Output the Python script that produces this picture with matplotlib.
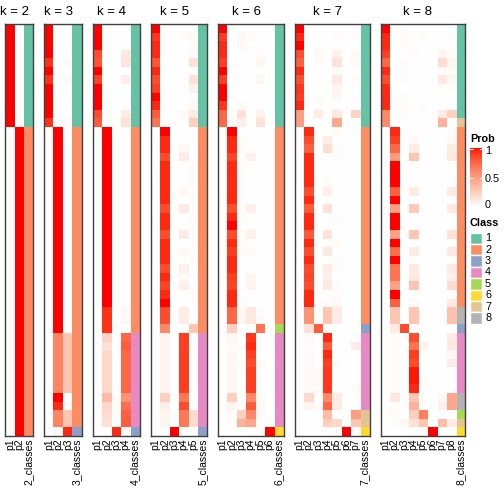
import numpy as np
import matplotlib
matplotlib.use("Agg")
import matplotlib.pyplot as plt
from matplotlib.patches import Rectangle

plt.rcParams['font.family'] = ['Liberation Sans', 'DejaVu Sans']

# class colours (Set2)
class_cols = ["#66C2A5", "#FC8D62", "#8DA0CB", "#E78AC3",
              "#A6D854", "#FFD92F", "#E5C494", "#B3B3B3"]

# consensus class per sample, rows in plotted order
cls2 = [1,1,1,1,1,1,1,1,1,1,1,1,
        2,2,2,2,2,2,2,2,2,2,2,2,2,2,2,2,2,2,2,2,2,2,2,2,
        2,2,2,2,2,2,2,2,2,2,2,2]
cls3 = [1,1,1,1,1,1,1,1,1,1,1,1,
        2,2,2,2,2,2,2,2,2,2,2,2,2,2,2,2,2,2,2,2,2,2,2,2,
        2,2,2,2,2,2,2,2,2,2,2,3]
cls4 = [1,1,1,1,1,1,1,1,1,1,1,1,
        2,2,2,2,2,2,2,2,2,2,2,2,2,2,2,2,2,2,2,2,2,2,2,2,
        4,4,4,4,4,4,4,4,4,4,4,3]
cls5 = [1,1,1,1,1,1,1,1,1,1,1,1,
        2,2,2,2,2,2,2,2,2,2,2,2,2,2,2,2,2,2,2,2,2,2,2,2,
        4,4,4,4,4,4,4,4,4,4,4,3]
cls6 = [1,1,1,1,1,1,1,1,1,1,1,1,
        2,2,2,2,2,2,2,2,2,2,2,2,2,2,2,2,2,2,2,2,2,2,2,5,
        4,4,4,4,4,4,4,4,4,4,4,6]
cls7 = [1,1,1,1,1,1,1,1,1,1,1,1,
        2,2,2,2,2,2,2,2,2,2,2,2,2,2,2,2,2,2,2,2,2,2,2,3,
        4,4,4,4,4,4,4,4,4,7,7,6]
cls8 = [1,1,1,1,1,1,1,1,1,1,1,7,
        2,2,2,2,2,2,2,2,2,2,2,2,2,2,2,2,2,2,2,2,2,8,8,3,
        4,4,4,4,4,4,4,8,8,5,7,6]

# membership probabilities p1..pk per sample
mem2 = [[1,0],[1,0],[1,0],[1,0],[1,0],[1,0],[1,0],[1,0],[1,0],[1,0],[1,0],[1,0],
        [0,1],[0,1],[0,1],[0,1],[0,1],[0,1],[0,1],[0,1],[0,1],[0,1],[0,1],[0,1],
        [0,1],[0,1],[0,1],[0,1],[0,1],[0,1],[0,1],[0,1],[0,1],[0,1],[0,1],[0,1],
        [0,1],[0,1],[0,1],[0,1],[0,1],[0,1],[0,1],[0,1],[0,1],[0,1],[0,1],[0,1]]

mem3 = [[1,0,0],[1,0,0],[1,0,0],[1,0,0],[.93,0,.03],[1,0,0],
        [.93,0,.03],[1,0,0],[1,0,0],[1,0,0],[1,0,0],[.93,0,.03],
        [0,1,0],[0,1,0],[0,1,0],[0,1,0],[0,1,0],[0,1,0],
        [0,1,0],[0,1,0],[0,1,0],[0,1,0],[0,1,0],[0,1,0],
        [0,1,0],[0,1,0],[0,1,0],[0,1,0],[0,1,0],[0,1,0],
        [0,1,0],[0,1,0],[0,1,0],[0,1,0],[0,1,0],[0,1,0],
        [0,.62,.3],[0,.62,.3],[0,.62,.3],[0,.62,.3],[0,.62,.3],[0,.62,.3],
        [0,.62,.3],[0,1,0],[0,.95,.02],[0,.62,.3],[0,.62,.3],[0,.03,.95]]

mem4 = [[1,0,0,0],[1,0,0,0],[1,0,0,0],[.85,0,0,.12],[.82,0,0,.14],[1,0,0,0],
        [.88,0,0,.08],[1,0,0,0],[1,0,0,0],[1,0,0,0],[.85,0,0,.1],[.8,0,0,.15],
        [0,1,0,0],[0,1,0,0],[0,1,0,0],[0,1,0,0],[0,1,0,0],[0,1,0,0],
        [0,1,0,0],[0,1,0,0],[0,1,0,0],[0,1,0,0],[0,1,0,0],[0,1,0,0],
        [0,1,0,0],[0,1,0,0],[0,1,0,0],[0,1,0,0],[0,1,0,0],[0,1,0,0],
        [0,1,0,0],[0,1,0,0],[0,1,0,0],[0,.93,0,.03],[0,.93,0,.03],[0,.93,.02,0],
        [0,.22,0,.75],[0,.15,0,.8],[0,.2,0,.75],[0,.2,0,.75],[0,.2,0,.75],[0,.2,0,.75],
        [0,.2,0,.75],[0,.35,.02,.55],[0,.2,.02,.72],[0,.18,.01,.78],[0,.15,0,.8],[0,0,.95,.02]]

mem5 = [[1,0,0,0,0],[.92,0,0,.02,.03],[.95,0,0,0,.02],[.95,0,0,0,.02],
        [.82,0,0,0,.15],[.95,0,0,0,.01],[.85,0,0,0,.15],[.9,0,0,0,.07],
        [1,0,0,0,0],[.95,0,0,0,.03],[.8,0,0,.03,.1],[.7,0,0,0,.25],
        [0,1,0,0,0],[0,.95,0,0,0],[0,.95,0,.03,0],[0,.85,0,.1,0],
        [0,.95,0,0,.02],[0,.95,0,0,.02],[0,.95,0,0,.02],[0,.95,0,.03,0],
        [0,.95,0,0,.02],[0,.85,0,.1,0],[0,.95,0,0,.02],[0,.95,0,0,.02],
        [0,.85,0,.1,0],[0,.95,0,0,.02],[0,.95,0,.03,0],[0,.95,0,0,.02],
        [0,.85,0,.08,0],[0,.95,0,.03,0],[0,.88,0,.08,0],[0,.95,0,0,.02],
        [0,1,0,0,0],[0,.85,0,.1,0],[0,.85,0,.1,0],[0,.6,0,0,.3],
        [0,.05,0,.9,0],[0,.05,0,.9,.02],[0,.05,0,.9,0],[0,.05,0,.9,0],
        [0,.05,0,.9,0],[0,.05,0,.9,0],[0,.05,0,.9,0],[0,.25,0,.68,0],
        [0,.08,0,.85,0],[0,.05,0,.68,.18],[0,.05,0,.68,.18],[0,0,1,0,0]]

mem6 = [[1,0,0,0,0,0],[.9,0,.04,.02,0,0],[.95,0,.03,0,0,0],[.95,0,0,0,.02,0],
        [.9,0,.02,0,.05,0],[1,0,0,0,0,0],[.9,0,.02,0,.04,0],[1,0,0,0,0,0],
        [1,0,0,0,0,0],[.92,0,.03,0,0,0],[.75,0,.15,0,.07,0],[.75,0,.08,0,.15,0],
        [0,1,0,0,0,0],[0,.95,.02,0,0,0],[0,.95,.02,0,0,0],[0,.88,.02,.07,0,0],
        [0,.95,.02,0,0,0],[0,.95,.02,0,0,0],[0,.95,.02,0,0,0],[0,.95,.02,0,0,0],
        [0,.95,.02,0,0,0],[0,.85,.02,.08,0,0],[0,.95,.02,0,0,0],[0,1,0,0,0,0],
        [0,.85,.02,.07,0,0],[0,.95,.02,0,0,0],[0,.9,.02,.03,0,0],[0,.95,0,0,0,0],
        [0,.95,0,0,0,0],[0,.9,0,.05,0,0],[0,.88,0,.06,0,0],[0,.95,0,0,0,0],
        [0,.95,.02,0,0,0],[0,.75,.04,.12,.02,0],[0,.75,.04,.12,.03,0],[0,.25,0,0,.7,0],
        [0,.04,0,.92,0,0],[0,.02,.02,.95,0,0],[0,.04,0,.9,0,0],[0,.04,.02,.85,.03,0],
        [0,.04,0,.9,0,0],[0,.04,.01,.9,0,0],[0,.04,0,.9,0,0],[0,.25,0,.6,.03,0],
        [0,.05,0,.8,.03,0],[0,.02,.25,.6,.03,0],[0,.02,.4,.45,0,0],[0,0,0,0,0,1]]

mem7 = [[1,0,0,0,0,0,0],[.95,0,0,0,.02,0,.02],[1,0,0,0,0,0,0],[.85,0,.03,0,.07,0,.03],
        [.78,0,.02,0,.15,0,.03],[.95,0,0,0,.02,0,0],[.85,0,0,0,.12,0,.02],[.92,0,0,0,.05,0,0],
        [.9,0,.02,0,.04,0,0],[.95,0,.02,0,0,0,0],[.5,0,.1,0,.12,0,.22],[.5,0,0,0,.45,0,0],
        [0,.95,0,0,.02,0,0],[0,.85,0,.1,0,0,0],[0,.78,0,.18,.02,0,0],[0,.95,0,0,.02,0,0],
        [0,.95,0,0,0,0,0],[0,.95,0,0,0,0,0],[0,.95,0,.02,0,0,0],[0,.85,0,.08,0,0,0],
        [0,.95,0,0,0,0,0],[0,.8,0,.15,0,0,0],[0,.95,0,0,.02,0,0],[0,.95,0,0,.02,0,0],
        [0,.8,0,.15,0,0,0],[0,.95,0,0,.02,0,0],[0,.85,0,.12,0,0,0],[0,.95,0,0,.02,0,0],
        [0,.85,0,.1,.02,0,0],[0,.88,0,.08,0,0,0],[0,.85,0,.12,.02,0,0],[0,.95,0,0,.02,0,0],
        [0,.95,0,.02,.03,0,0],[0,.55,0,.3,.1,0,0],[0,.55,0,.3,.1,0,0],[0,.15,.8,0,0,0,0],
        [0,.03,0,.95,0,0,0],[0,.02,0,.8,0,0,.1],[0,.03,0,.95,0,0,0],[0,.03,0,.9,.02,0,0],
        [0,.03,.03,.92,0,0,0],[0,.03,.03,.92,0,0,0],[0,.03,.03,.92,0,0,.02],[0,.2,0,.6,.1,0,.02],
        [0,.05,.02,.75,.1,0,0],[0,0,0,.35,0,0,.5],[0,0,0,.25,.2,0,.3],[0,0,0,0,0,1,0]]

mem8 = [[1,0,.02,0,0,0,0,0],[.95,0,.02,0,.02,0,0,.02],[.95,0,.02,0,0,0,0,0],[.9,0,0,.02,0,0,.05,.02],
        [.75,0,.02,0,0,0,.18,.05],[.95,0,.02,0,0,0,.02,.02],[.85,0,.02,0,0,0,.12,.04],[.95,0,0,0,0,0,.02,.02],
        [.95,0,.02,0,0,0,0,0],[.95,0,.02,0,.02,0,0,0],[.6,0,.02,0,0,0,.1,.25],[.6,0,0,0,0,0,.4,0],
        [0,.95,0,0,0,0,0,.02],[0,.9,0,.03,0,0,0,.03],[0,.75,0,.1,0,0,0,.1],[0,.5,0,.3,0,0,0,.12],
        [0,1,0,0,0,0,0,0],[0,1,0,0,0,0,0,0],[0,1,0,0,0,0,0,0],[0,.78,0,.1,0,0,0,.1],
        [0,1,0,0,0,0,0,0],[0,.5,0,.28,0,0,0,.12],[0,1,0,0,0,0,0,0],[0,1,0,0,0,0,0,0],
        [0,.48,0,.3,0,0,0,.15],[0,1,0,0,0,0,0,0],[0,.72,0,.1,0,0,0,.12],[0,1,0,0,0,0,0,0],
        [0,.7,0,.12,0,0,0,.12],[0,.7,0,.12,0,0,0,.08],[0,.48,0,.3,0,0,0,.18],[0,1,0,0,0,0,0,0],
        [0,.78,0,.02,0,0,0,.12],[0,.3,0,.3,0,0,0,.32],[0,.3,0,.3,0,0,0,.32],[0,.1,.85,0,0,0,0,0],
        [0,.02,0,.85,0,0,0,.1],[0,.02,0,.7,.07,0,0,.12],[0,.02,0,.9,0,0,0,.04],[0,.02,0,.85,0,0,0,.1],
        [0,.02,0,.98,0,0,0,0],[0,.02,0,.98,.02,0,0,0],[0,.02,0,.95,0,0,0,0],[0,.12,0,.3,0,0,.03,.45],
        [0,.02,0,.4,0,0,.07,.45],[0,.02,0,.25,.65,0,0,0],[0,.02,.04,.15,.3,0,.35,.1],[0,0,0,0,0,1,0,0]]

panels = [(2, mem2, cls2), (3, mem3, cls3), (4, mem4, cls4), (5, mem5, cls5),
          (6, mem6, cls6), (7, mem7, cls7), (8, mem8, cls8)]


# white -> red ramp interpolated in LAB space
WHITE = np.array([0.95047, 1.0, 1.08883])
M = np.array([[0.4124, 0.3576, 0.1805],
              [0.2126, 0.7152, 0.0722],
              [0.0193, 0.1192, 0.9505]])

def rgb2lab(rgb):
    c = np.asarray(rgb, float)
    lin = np.where(c <= 0.04045, c / 12.92, ((c + 0.055) / 1.055) ** 2.4)
    t = (M @ lin) / WHITE
    f = np.where(t > 0.008856, np.cbrt(t), 7.787 * t + 16 / 116)
    return np.array([116 * f[1] - 16, 500 * (f[0] - f[1]), 200 * (f[1] - f[2])])

def lab2rgb(lab):
    L, a, b = lab[..., 0], lab[..., 1], lab[..., 2]
    fy = (L + 16) / 116
    f = np.stack([fy + a / 500, fy, fy - b / 200], axis=-1)
    t = np.where(f > 0.2069, f ** 3, (f - 16 / 116) / 7.787) * WHITE
    lin = t @ np.linalg.inv(M).T
    lin = np.clip(lin, 0, 1)
    c = np.where(lin <= 0.0031308, 12.92 * lin, 1.055 * lin ** (1 / 2.4) - 0.055)
    return np.clip(c, 0, 1)

lab_w = rgb2lab([1, 1, 1])
lab_r = rgb2lab([1, 0, 0])

def prob_rgb(v):
    v = np.asarray(v, float)[..., None]
    return lab2rgb(lab_w + v * (lab_r - lab_w))

class_rgb = np.array([matplotlib.colors.to_rgb(c) for c in class_cols])

W = H = 504
fig = plt.figure(figsize=(W / 100, H / 100), dpi=100)

col_w = 9.37
gap = 11.0
top = 24
hm_h = 412
x0 = 5.3
for k, mem, cls in panels:
    n = k + 1
    ax = fig.add_axes([x0 / W, 1 - (top + hm_h) / H, n * col_w / W, hm_h / H])
    img = np.concatenate([prob_rgb(np.array(mem)),
                          class_rgb[np.array(cls) - 1][:, None, :]], axis=1)
    ax.imshow(img, aspect='auto', interpolation='nearest')
    ax.set_xticks(range(n))
    ax.set_xticklabels(["p%d" % i for i in range(1, k + 1)] + ["%d_classes" % k],
                       rotation=90, fontsize=7.5)
    ax.set_yticks([])
    ax.tick_params(axis='x', length=0, pad=2)
    for s in ax.spines.values():
        s.set_color('#404040')
        s.set_linewidth(1)
    fig.text((x0 + k * col_w / 2) / W, 1 - 12 / H, "k = %d" % k,
             ha='center', va='center', fontsize=9.5)
    x0 += n * col_w + gap

# legends, drawn in pixel coordinates
ov = fig.add_axes([0, 0, 1, 1])
ov.patch.set_alpha(0)
grad = prob_rgb(np.linspace(1, 0, 100))[:, None, :]
ov.imshow(grad, extent=(470, 482, 207, 148), aspect='auto', interpolation='bilinear')
for yy in (148.5, 177.5):
    ov.plot([470, 472.5], [yy, yy], color='white', lw=0.8)
    ov.plot([479.5, 482], [yy, yy], color='white', lw=0.8)
ov.text(470, 139, "Prob", fontsize=7.8, fontweight='bold', ha='left', va='center')
ov.text(485, 151, "1", fontsize=7.8, ha='left', va='center')
ov.text(485, 179, "0.5", fontsize=7.8, ha='left', va='center')
ov.text(485, 205, "0", fontsize=7.8, ha='left', va='center')

ov.text(470, 223, "Class", fontsize=7.8, fontweight='bold', ha='left', va='center')
for i, c in enumerate(class_cols):
    y = 232.5 + 11.4 * i
    ov.add_patch(Rectangle((470, y), 12, 11.4, facecolor=c, edgecolor='white', lw=1))
    ov.text(485, y + 5.7, str(i + 1), fontsize=7.8, ha='left', va='center')

ov.set_xlim(0, W)
ov.set_ylim(H, 0)
ov.axis('off')

fig.savefig("out.png", dpi=100)
